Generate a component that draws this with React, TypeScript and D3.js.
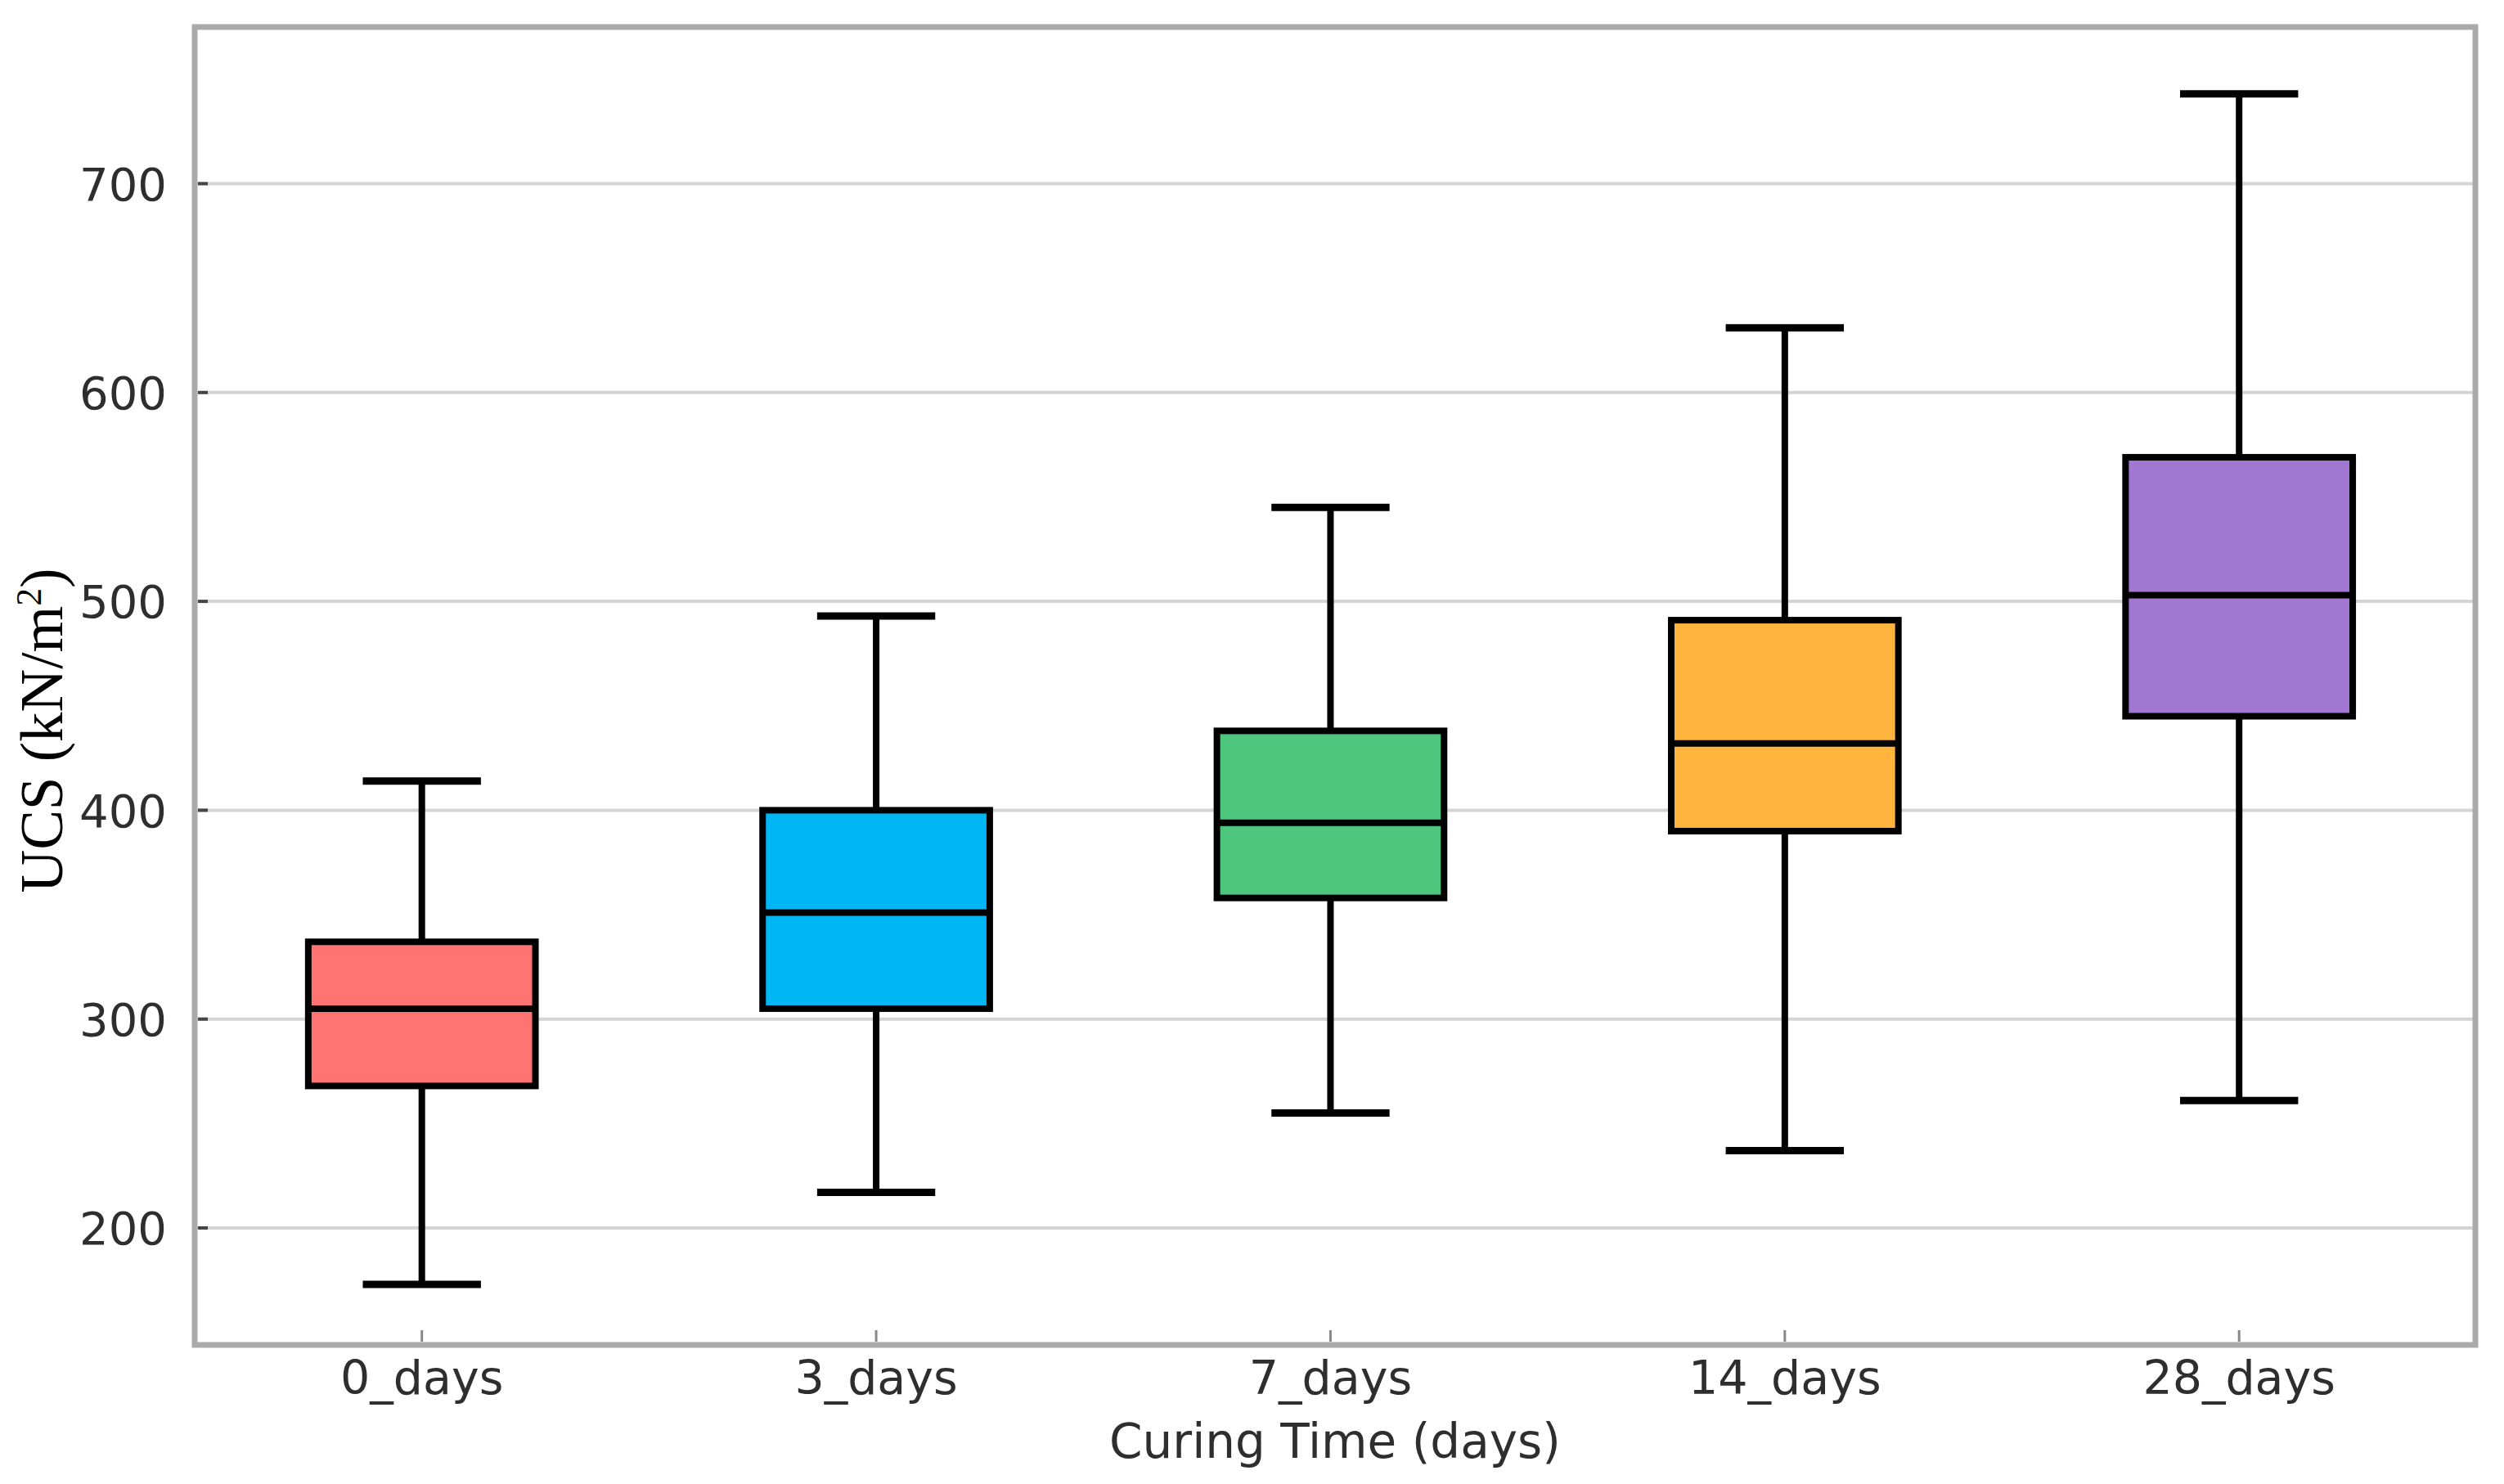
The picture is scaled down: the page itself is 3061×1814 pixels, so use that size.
import React, { useEffect, useRef } from 'react';
import * as d3 from 'd3';

const categories = ['0_days', '3_days', '7_days', '14_days', '28_days'];
const whiskerLow = [173, 217, 255, 237, 261];
const q1 = [268, 305, 358, 390, 445];
const medians = [305, 351, 394, 432, 503];
const q3 = [337, 400, 438, 491, 569];
const whiskerHigh = [414, 493, 545, 631, 743];
const boxColors = ['#FF7373', '#00B6F5', '#4EC77E', '#FFB43E', '#A277D1'];
const yTicks = [200, 300, 400, 500, 600, 700];

const W = 3061;
const H = 1814;
const margin = { top: 33, right: 35, bottom: 170, left: 238 };

export default function App() {
  const svgRef = useRef<SVGSVGElement>(null);

  useEffect(() => {
    if (!svgRef.current) return;
    const svg = d3.select(svgRef.current);
    svg.selectAll('*').remove();

    const plotW = W - margin.left - margin.right;
    const plotH = H - margin.top - margin.bottom;

    const g = svg.append('g').attr('transform', `translate(${margin.left},${margin.top})`);

    const x = d3.scaleLinear().domain([-0.5, 4.52]).range([0, plotW]);
    const y = d3.scaleLinear().domain([144, 775]).range([plotH, 0]);
    const step = x(1) - x(0);
    const boxW = step * 0.5;
    const capW = step * 0.26;

    // grid lines
    g.append('g')
      .selectAll('line')
      .data(yTicks)
      .join('line')
      .attr('x1', 0)
      .attr('x2', plotW)
      .attr('y1', d => y(d))
      .attr('y2', d => y(d))
      .attr('stroke', '#d4d4d4')
      .attr('stroke-width', 4);

    const data = categories.map((c, i) => ({
      c,
      i,
      lo: whiskerLow[i],
      q1: q1[i],
      med: medians[i],
      q3: q3[i],
      hi: whiskerHigh[i],
      color: boxColors[i]
    }));

    const boxes = g.append('g').selectAll('g').data(data).join('g');

    // whiskers
    boxes.append('line')
      .attr('x1', d => x(d.i)).attr('x2', d => x(d.i))
      .attr('y1', d => y(d.hi)).attr('y2', d => y(d.q3))
      .attr('stroke', '#000').attr('stroke-width', 8);
    boxes.append('line')
      .attr('x1', d => x(d.i)).attr('x2', d => x(d.i))
      .attr('y1', d => y(d.q1)).attr('y2', d => y(d.lo))
      .attr('stroke', '#000').attr('stroke-width', 8);
    // caps
    boxes.append('line')
      .attr('x1', d => x(d.i) - capW / 2).attr('x2', d => x(d.i) + capW / 2)
      .attr('y1', d => y(d.hi)).attr('y2', d => y(d.hi))
      .attr('stroke', '#000').attr('stroke-width', 9);
    boxes.append('line')
      .attr('x1', d => x(d.i) - capW / 2).attr('x2', d => x(d.i) + capW / 2)
      .attr('y1', d => y(d.lo)).attr('y2', d => y(d.lo))
      .attr('stroke', '#000').attr('stroke-width', 9);
    // box
    boxes.append('rect')
      .attr('x', d => x(d.i) - boxW / 2)
      .attr('width', boxW)
      .attr('y', d => y(d.q3))
      .attr('height', d => y(d.q1) - y(d.q3))
      .attr('fill', d => d.color)
      .attr('stroke', '#000')
      .attr('stroke-width', 8);
    // median
    boxes.append('line')
      .attr('x1', d => x(d.i) - boxW / 2).attr('x2', d => x(d.i) + boxW / 2)
      .attr('y1', d => y(d.med)).attr('y2', d => y(d.med))
      .attr('stroke', '#000').attr('stroke-width', 8);

    // frame
    g.append('rect')
      .attr('x', 0).attr('y', 0)
      .attr('width', plotW).attr('height', plotH)
      .attr('fill', 'none')
      .attr('stroke', '#ababab')
      .attr('stroke-width', 7);

    // y ticks + labels
    const yAxis = g.append('g');
    yAxis.selectAll('line')
      .data(yTicks)
      .join('line')
      .attr('x1', 4).attr('x2', 16)
      .attr('y1', d => y(d)).attr('y2', d => y(d))
      .attr('stroke', '#444').attr('stroke-width', 4);
    yAxis.selectAll('text')
      .data(yTicks)
      .join('text')
      .attr('x', -34)
      .attr('y', d => y(d))
      .attr('dy', '0.36em')
      .attr('text-anchor', 'end')
      .attr('font-family', 'DejaVu Sans')
      .attr('font-size', 56)
      .attr('fill', '#2e2e2e')
      .text(d => d);

    // x ticks + labels
    const xAxis = g.append('g');
    xAxis.selectAll('line')
      .data(categories)
      .join('line')
      .attr('x1', (_, i) => x(i)).attr('x2', (_, i) => x(i))
      .attr('y1', plotH - 4).attr('y2', plotH - 18)
      .attr('stroke', '#888').attr('stroke-width', 3);
    xAxis.selectAll('text')
      .data(categories)
      .join('text')
      .attr('x', (_, i) => x(i))
      .attr('y', plotH + 60)
      .attr('text-anchor', 'middle')
      .attr('font-family', 'DejaVu Sans')
      .attr('font-size', 57)
      .attr('fill', '#2e2e2e')
      .text(d => d);

    g.append('text')
      .attr('x', plotW / 2)
      .attr('y', plotH + 138)
      .attr('text-anchor', 'middle')
      .attr('font-family', 'DejaVu Sans')
      .attr('font-size', 58)
      .attr('fill', '#2e2e2e')
      .text('Curing Time (days)');

    // y label
    const yl = svg.append('text')
      .attr('transform', `translate(76,${893}) rotate(-90)`)
      .attr('text-anchor', 'middle')
      .attr('font-family', 'Liberation Serif, Times New Roman, serif')
      .attr('font-size', 73)
      .attr('fill', '#000');
    yl.append('tspan').text('UCS (kN/m');
    yl.append('tspan').attr('font-size', 44).attr('dy', -26).text('2');
    yl.append('tspan').attr('dy', 26).text(')');
  }, []);

  return (
    <svg
      ref={svgRef}
      width={W}
      height={H}
      style={{ position: 'absolute', left: 0, top: 0, background: '#fff' }}
    />
  );
}
